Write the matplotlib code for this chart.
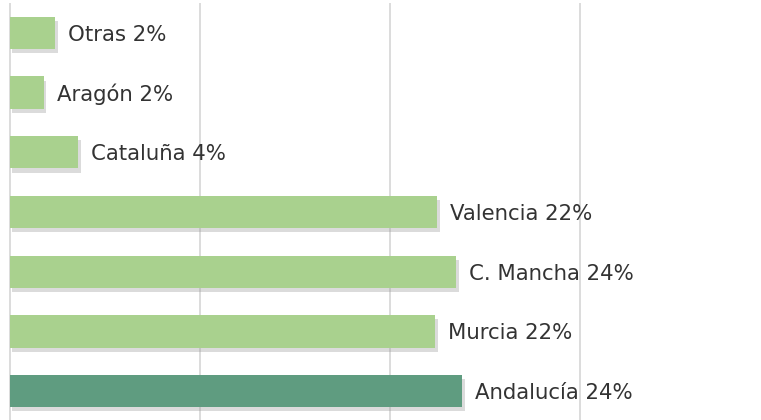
import matplotlib.pyplot as plt
import matplotlib.patheffects as pe

# Data
regiones = ['Otras', 'Aragón', 'Cataluña', 'Valencia', 'C. Mancha', 'Murcia', 'Andalucía']
valores = [2.4, 1.8, 3.6, 22.5, 23.5, 22.4, 23.8]
etiquetas = ['2%', '2%', '4%', '22%', '24%', '22%', '24%']
colores = ['#a9d18e'] * 6 + ['#5f9c80']

fig = plt.figure(figsize=(7.61, 4.2), dpi=100)
ax = fig.add_axes([0, -1 / 420, 1, 418 / 420])

y = list(range(len(regiones)))
bars = ax.barh(y, valores, height=0.54, color=colores, zorder=3)
for b in bars:
    b.set_path_effects([pe.SimplePatchShadow(offset=(2, -3), shadow_rgbFace='#9a9a9a', alpha=0.35),
                        pe.Normal()])

# Labels next to each bar
for yi, v, reg, et in zip(y, valores, regiones, etiquetas):
    ax.annotate(f'{reg} {et}', xy=(v, yi), xytext=(13, -2), textcoords='offset pixels',
                va='center', ha='left', fontsize=15.3, color='#333333', family='DejaVu Sans', zorder=4)

ax.set_xlim(-0.5, 39.55)
ax.set_ylim(6.5, -0.5)
ax.set_xticks([0, 10, 20, 30])
ax.grid(axis='x', color='#d9d9d9', linewidth=1.3, zorder=0)
ax.tick_params(left=False, bottom=False, labelleft=False, labelbottom=False)
for s in ax.spines.values():
    s.set_visible(False)

fig.savefig('out.png', dpi=100)
